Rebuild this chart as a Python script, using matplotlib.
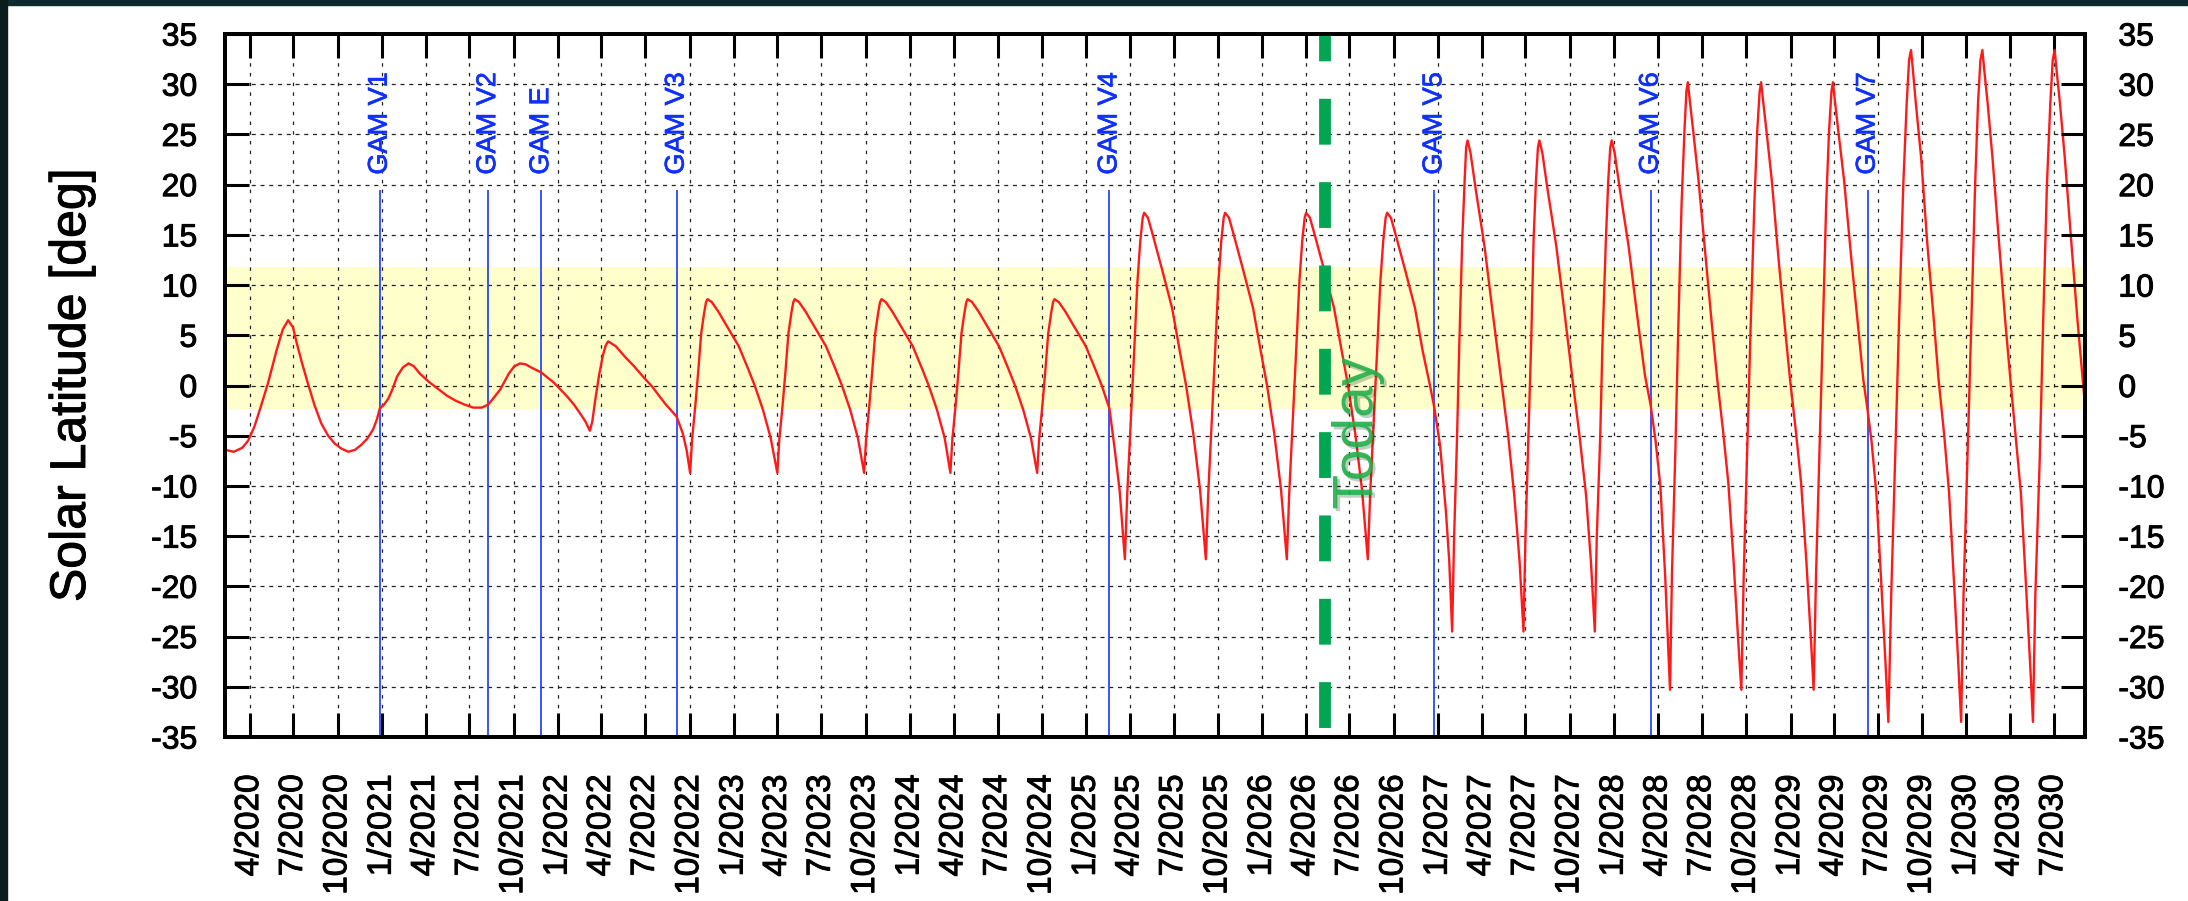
import numpy as np
import pandas as pd
import matplotlib
matplotlib.use("Agg")
import matplotlib.pyplot as plt
import matplotlib.patheffects as pe
from matplotlib.patches import Rectangle

plt.rcParams['font.family'] = ['Liberation Sans', 'DejaVu Sans']
plt.rcParams['axes.unicode_minus'] = False
plt.rcParams['lines.scale_dashes'] = False

launch = np.datetime64("2020-02-10")

# solar latitude: days since launch / degrees
lat_days = [
    # cruise phase
    0, 18, 36, 48, 61, 75, 89, 107, 120, 131, 141, 149, 160, 172, 186, 200, 214, 228, 242, 256,
    270, 283, 295, 307, 315, 321, 330, 339, 348, 357, 369, 381, 392, 404, 422, 441, 460, 478, 497, 515,
    533, 546, 558, 571, 589, 600, 612, 624, 635, 656, 682, 696, 710, 724, 737, 748, 757, 762, 768, 776,
    784, 790, 795, 811, 829, 849, 867, 886, 913, 937, 950, 958,
    # after V3
    965, 969, 976, 982, 988, 994, 998, 1001, 1010, 1023, 1044, 1066, 1085, 1099, 1116, 1132,
    1146, 1150, 1157, 1163, 1169, 1175, 1179, 1182, 1191, 1204, 1225, 1247, 1266, 1280, 1297, 1313,
    1326, 1330, 1337, 1343, 1349, 1355, 1359, 1362, 1371, 1384, 1405, 1427, 1446, 1460, 1477, 1493,
    1505, 1509, 1516, 1522, 1528, 1534, 1538, 1541, 1550, 1563, 1584, 1606, 1625, 1639, 1656, 1672,
    1685, 1689, 1696, 1702, 1708, 1714, 1718, 1721, 1730, 1743, 1764, 1786, 1805, 1819, 1835, 1845, 1856,
    # after V4
    1867, 1872, 1879, 1886, 1893, 1899, 1904, 1907, 1915, 1926, 1945, 1965, 1981, 1994, 2009, 2023,
    2035, 2040, 2047, 2054, 2061, 2067, 2072, 2075, 2083, 2094, 2113, 2133, 2149, 2162, 2177, 2191,
    2203, 2208, 2215, 2222, 2229, 2235, 2240, 2243, 2251, 2262, 2281, 2301, 2317, 2330, 2345, 2359,
    2371, 2376, 2383, 2390, 2397, 2403, 2408, 2411, 2419, 2430, 2449, 2469, 2485, 2500, 2509, 2521, 2533, 2540,
    # after V5
    2546, 2550, 2556, 2561, 2567, 2572, 2575, 2578, 2584, 2595, 2613, 2630, 2648, 2662, 2675, 2686,
    2694, 2698, 2704, 2710, 2715, 2720, 2724, 2727, 2733, 2744, 2762, 2779, 2796, 2810, 2824, 2834,
    2842, 2846, 2853, 2858, 2865, 2870, 2874, 2877, 2883, 2894, 2912, 2929, 2946, 2958, 2968, 2978, 2988,
    # after V6
    2998, 3002, 3009, 3015, 3022, 3028, 3032, 3035, 3039, 3046, 3057, 3072, 3085, 3096, 3108, 3119, 3130, 3140,
    3146, 3151, 3158, 3165, 3173, 3179, 3184, 3187, 3191, 3198, 3209, 3223, 3236, 3247, 3259, 3270, 3281, 3291,
    3296, 3301, 3308, 3315, 3322, 3328, 3333, 3336, 3340, 3347, 3359, 3374, 3388, 3399, 3408, 3416, 3426, 3436, 3446,
    # after V7
    3451, 3457, 3465, 3473, 3482, 3489, 3494, 3498, 3502, 3508, 3519, 3532, 3545, 3555, 3567, 3577, 3587, 3597,
    3602, 3607, 3615, 3623, 3631, 3637, 3642, 3646, 3650, 3657, 3667, 3681, 3693, 3704, 3715, 3726, 3736, 3746,
    3751, 3756, 3765, 3772, 3780, 3787, 3792, 3796, 3800, 3807, 3817, 3831, 3843, 3854, 3862,
]
lat_deg = [
    -6.4, -6.6, -6.2, -5.5, -4.1, -2.0, 0.2, 3.5, 5.6, 6.5, 5.8, 4.2, 2.2, 0.2, -2.0, -3.8, -5.0, -5.8, -6.3, -6.6,
    -6.4, -5.9, -5.3, -4.4, -3.4, -2.3, -1.9, -1.3, -0.3, 0.9, 1.8, 2.2, 1.9, 1.2, 0.4, -0.3, -1.0, -1.5, -1.9, -2.2,
    -2.2, -1.9, -1.2, -0.4, 1.2, 1.9, 2.2, 2.1, 1.8, 1.3, 0.3, -0.4, -1.1, -1.9, -2.8, -3.6, -4.5, -3.6, -1.5, 1.0,
    3.0, 4.0, 4.4, 3.9, 2.9, 1.9, 0.9, -0.1, -1.8, -3.1, -4.8, -6.5,
    -8.7, -5.4, -1.9, 1.5, 5.2, 7.2, 8.3, 8.6, 8.3, 7.4, 5.7, 3.9, 1.7, 0.0, -2.4, -5.2,
    -8.7, -5.4, -1.9, 1.5, 5.2, 7.2, 8.3, 8.6, 8.3, 7.4, 5.7, 3.9, 1.7, 0.0, -2.4, -5.2,
    -8.7, -5.4, -1.9, 1.5, 5.2, 7.2, 8.3, 8.6, 8.3, 7.4, 5.7, 3.9, 1.7, 0.0, -2.4, -5.2,
    -8.7, -5.4, -1.9, 1.5, 5.2, 7.2, 8.3, 8.6, 8.3, 7.4, 5.7, 3.9, 1.7, 0.0, -2.4, -5.2,
    -8.7, -5.4, -1.9, 1.5, 5.2, 7.2, 8.3, 8.6, 8.3, 7.4, 5.7, 3.9, 1.7, 0.0, -2.3, -6.0, -10.4,
    -17.3, -10.7, -3.8, 3.1, 10.3, 14.4, 16.7, 17.2, 16.7, 14.8, 11.4, 7.7, 3.4, 0.0, -4.8, -10.4,
    -17.3, -10.7, -3.8, 3.1, 10.3, 14.4, 16.7, 17.2, 16.7, 14.8, 11.4, 7.7, 3.4, 0.0, -4.8, -10.4,
    -17.3, -10.7, -3.8, 3.1, 10.3, 14.4, 16.7, 17.2, 16.7, 14.8, 11.4, 7.7, 3.4, 0.0, -4.8, -10.4,
    -17.3, -10.7, -3.8, 3.1, 10.3, 14.4, 16.7, 17.2, 16.7, 14.8, 11.4, 7.7, 3.4, 0.0, -2.2, -6.0, -12.5, -17.5,
    -24.5, -15.2, -5.4, 4.4, 14.6, 20.5, 23.7, 24.4, 23.2, 19.5, 13.9, 7.3, 0.5, -4.9, -11.0, -17.6,
    -24.5, -15.2, -5.4, 4.4, 14.6, 20.5, 23.7, 24.4, 23.2, 19.5, 13.9, 7.3, 0.5, -4.9, -11.0, -17.6,
    -24.5, -15.2, -5.4, 4.4, 14.6, 20.5, 23.7, 24.4, 23.2, 19.5, 13.9, 7.3, 1.0, -2.0, -5.5, -10.0, -19.0,
    -30.3, -18.8, -6.7, 5.4, 18.1, 25.4, 29.3, 30.2, 28.4, 25.4, 20.5, 12.7, 6.0, 0.6, -4.5, -9.7, -17.6, -25.8,
    -30.3, -18.8, -6.7, 5.4, 18.1, 25.4, 29.3, 30.2, 28.4, 25.4, 20.5, 12.7, 6.0, 0.6, -4.5, -9.7, -17.6, -25.8,
    -30.3, -18.8, -6.7, 5.4, 18.1, 25.4, 29.3, 30.2, 28.4, 25.4, 20.5, 12.7, 6.0, 0.6, -2.5, -5.5, -10.7, -19.4, -28.5,
    -33.5, -20.8, -7.4, 6.0, 20.0, 28.1, 32.4, 33.4, 31.4, 28.1, 22.7, 14.0, 6.7, 0.7, -5.0, -10.7, -19.4, -28.5,
    -33.5, -20.8, -7.4, 6.0, 20.0, 28.1, 32.4, 33.4, 31.4, 28.1, 22.7, 14.0, 6.7, 0.7, -5.0, -10.7, -19.4, -28.5,
    -33.5, -20.8, -7.4, 6.0, 20.0, 28.1, 32.4, 33.4, 31.4, 28.1, 22.7, 14.0, 6.7, 0.7, -3.5,
]

gam_names = ["GAM V1", "GAM V2", "GAM E", "GAM V3", "GAM V4", "GAM V5", "GAM V6", "GAM V7"]
gam_dates = ["2020-12-27", "2021-08-09", "2021-11-27", "2022-09-04",
             "2025-02-18", "2026-12-24", "2028-03-17", "2029-06-10"]

today = "2026-05-11"
band_low, band_high = -2.3, 11.8
y_ticks = list(range(-35, 36, 5))
x_start, x_end = "2020-02-10", "2030-09-04"

x_curve = launch + np.array(lat_days, dtype="timedelta64[D]")
gam_x = np.array(gam_dates, dtype="datetime64[D]")
today_x = np.datetime64(today)

bold = [pe.withStroke(linewidth=0.7, foreground="black")]

fig = plt.figure(figsize=(21.88, 9.01), dpi=100)
ax = fig.add_axes([0.10283, 0.18202, 0.85010, 0.78024])

ax.axhspan(band_low, band_high, color="#ffffcc", zorder=0.1, lw=0)
ax.set_axisbelow(True)

ax.plot(x_curve, lat_deg, color="#ff1a1a", lw=1.7, zorder=3)

ax.vlines(gam_x, -35, 19.5, color="#2a45ff", lw=1.3, zorder=2.6)
for name, gx in zip(gam_names, gam_x):
    ax.text(gx, 21, name, rotation=90, ha="center", va="bottom",
            color="#1030ff", fontsize=19.5, zorder=5,
            path_effects=[pe.withStroke(linewidth=0.5, foreground="#1030ff")])

ax.plot([today_x, today_x], [-35, 35], color="#00a651", lw=8.5,
        linestyle=(53.5, (33, 27)), dash_capstyle="butt", zorder=4)
ax.text(np.datetime64("2026-07-17"), -4.8, "Today", rotation=90, ha="center", va="center",
        color="#22b04a", fontsize=41, alpha=0.9, zorder=5,
        path_effects=[pe.SimplePatchShadow(offset=(2, -2), alpha=0.25), pe.Normal()])

ax.set_xlim(np.datetime64(x_start), np.datetime64(x_end))
ax.set_ylim(-35, 35)

xt = pd.date_range("2020-04-01", "2030-07-01", freq="3MS")
ax.set_xticks(xt)
ax.set_xticklabels([f"{d.month}/{d.year}" for d in xt], rotation=90)
ax.set_yticks(y_ticks)
ax.set_yticklabels([str(v) for v in y_ticks])

ax.grid(True, axis="y", color="#222222", linestyle=(0, (2.9, 3.4)), lw=0.9)
ax.grid(True, axis="x", color="#222222", linestyle=(0, (2.5, 4.5)), lw=0.9)

ax.tick_params(axis="both", direction="in", length=17, width=2.2, labelsize=23, top=True)
ax.tick_params(axis="x", pad=27, labelsize=24)
ax.tick_params(axis="y", pad=20)

ax2 = ax.twinx()
ax2.set_ylim(-35, 35)
ax2.set_yticks(y_ticks)
ax2.set_yticklabels([str(v) for v in y_ticks])
ax2.tick_params(axis="y", direction="in", length=17, width=2.2, labelsize=23, pad=24)

for a in (ax, ax2):
    for s in a.spines.values():
        s.set_linewidth(2.8)
    for lbl in a.get_xticklabels() + a.get_yticklabels():
        lbl.set_path_effects(bold)

fig.text(72 / 2188, (901 - 385) / 901, "Solar Latitude [deg]", rotation=90,
         fontsize=36, ha="center", va="center", path_effects=bold)

# dark slide frame
fig.add_artist(Rectangle((0, 1 - 5 / 901), 1, 5 / 901, transform=fig.transFigure,
                         color="#0f2a2e", zorder=10))
fig.add_artist(Rectangle((0, 0), 7 / 2188, 1, transform=fig.transFigure,
                         color="#0b1c1e", zorder=10))

fig.savefig("out.png", dpi=100)
